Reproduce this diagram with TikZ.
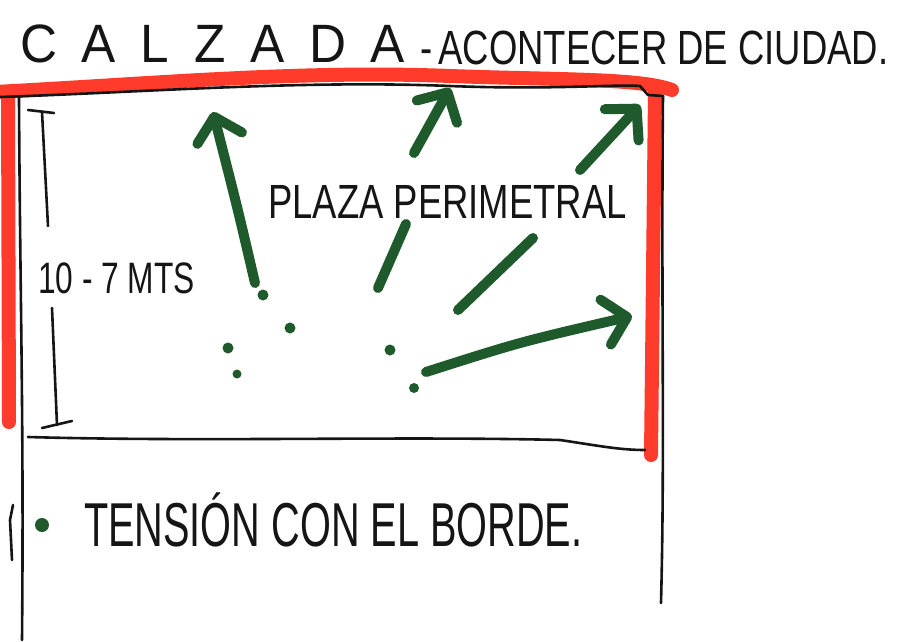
\documentclass[tikz,border=0pt]{standalone}
\usepackage{fontspec}
\setmainfont{Liberation Sans}
\usetikzlibrary{arrows.meta}
\definecolor{mred}{HTML}{FF3B2B}
\definecolor{mgreen}{HTML}{1F5A2C}
\definecolor{ink}{HTML}{151515}
\newcommand{\lgap}{\hspace{26pt}}
\tikzset{
  redline/.style={mred,line width=14pt,line cap=round,line join=round},
  inkline/.style={ink,line width=2.6pt,line cap=round,line join=round},
  greenline/.style={mgreen,line width=10pt,line cap=round,line join=round},
  greenarrow/.style={greenline,-{Straight Barb[length=22pt,width=46pt,round]}},
  greendot/.style={mgreen,fill=mgreen,circle,inner sep=0pt,minimum size=11pt},
  hand/.style={ink,inner sep=0pt,anchor=base west,transform shape},
}
\begin{document}
\begin{tikzpicture}[x=1pt,y=-1pt]
\useasboundingbox (0,0) rectangle (897,642);
% red border
\draw[redline] (-5,92) .. controls (150,84) and (300,70) .. (450,76)
  .. controls (560,80) and (640,78) .. (672,90);
\draw[redline] (8,92) -- (9,422);
\draw[redline] (655,92) -- (651,455);
% ink outline
\coordinate (tl) at (19,97);
\coordinate (tr) at (663,96);
\coordinate (bl) at (15,640);
\coordinate (br) at (661,603);
\draw[inkline] (0,97) .. controls (150,92) and (300,80) .. (450,86)
  .. controls (550,90) and (620,84) .. (640,86) -- (648,95) -- (tr);
\draw[inkline] (tl) .. controls (20,300) and (24,420) .. (22,640);
\draw[inkline] (13,505) -- (10,520) -- (12,560);
\draw[inkline] (tr) .. controls (661,300) and (665,450) .. (br);
\coordinate (bml) at (28,437);
\coordinate (bmr) at (645,450);
\draw[inkline] (bml) .. controls (200,442) and (400,436) .. (560,440)
  .. controls (600,446) and (620,450) .. (bmr);
% dimension
\coordinate (d1) at (42,112);
\coordinate (d2) at (48,226);
\coordinate (d3) at (52,308);
\coordinate (d4) at (57,425);
\draw[inkline] (28,110) -- (54,113);
\draw[inkline] (d1) -- (d2);
\draw[inkline] (d3) -- (d4);
\draw[inkline] (42,428) -- (72,421);
\node[hand,font=\fontsize{44}{44}\selectfont,xscale=0.72] (dim) at (38,293) {10 - 7 MTS};
% title
\node[hand,font=\fontsize{54}{54}\selectfont,xscale=0.95] (t1) at (20,63)
  {C\lgap A\lgap L\lgap Z\lgap A\lgap D\lgap A};
\node[hand,font=\fontsize{48}{48}\selectfont,xscale=0.76] (t2) at (420,64)
  {-\,ACONTECER DE CIUDAD.};
% plaza label
\node[hand,font=\fontsize{48}{48}\selectfont,xscale=0.76] (plaza) at (268,218) {PLAZA PERIMETRAL};
% green arrows
\coordinate (a1s) at (255,283); \coordinate (a1e) at (213,112);
\draw[greenarrow] (a1s) .. controls (238,210) .. (a1e);
\coordinate (a2s) at (378,288); \coordinate (a2m) at (406,224);
\coordinate (a2n) at (414,153); \coordinate (a2e) at (450,88);
\draw[greenline] (a2s) -- (a2m);
\draw[greenarrow] (a2n) -- (a2e);
\coordinate (a3s) at (458,310); \coordinate (a3m) at (533,238);
\coordinate (a3n) at (580,170); \coordinate (a3e) at (640,105);
\draw[greenline] (a3s) -- (a3m);
\draw[greenarrow] (a3n) -- (a3e);
\coordinate (a4s) at (426,372); \coordinate (a4e) at (632,316);
\draw[greenarrow] (a4s) .. controls (520,342) .. (a4e);
% dots
\node[greendot] (g1) at (263,295) {};
\node[greendot] (g2) at (290,328) {};
\node[greendot] (g3) at (228,348) {};
\node[greendot,minimum size=9pt] (g4) at (237,374) {};
\node[greendot] (g5) at (390,350) {};
\node[greendot,minimum size=10pt] (g6) at (414,388) {};
% bullet
\node[greendot,minimum size=14pt] (bul) at (42,525) {};
\node[hand,font=\fontsize{62}{62}\selectfont,xscale=0.64] (tension) at (84,546) {TENSIÓN CON EL BORDE.};
\end{tikzpicture}
\end{document}
